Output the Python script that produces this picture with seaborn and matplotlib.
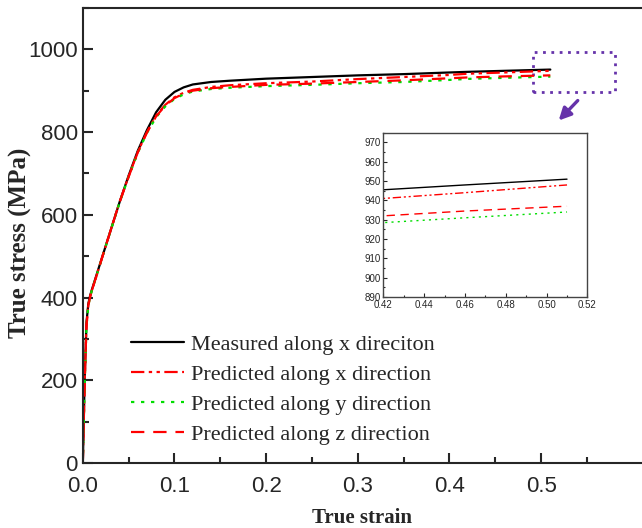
import numpy as np
import pandas as pd
import seaborn as sns
import matplotlib
matplotlib.use("Agg")
import matplotlib.pyplot as plt
from matplotlib.patches import Rectangle
from matplotlib.ticker import MultipleLocator, FixedLocator

# strain grid shared by all curves
strain = [0.0, 0.002, 0.004, 0.006, 0.008, 0.01, 0.015, 0.02, 0.03, 0.04, 0.05,
          0.06, 0.07, 0.08, 0.09, 0.10, 0.11, 0.12, 0.14, 0.16, 0.20, 0.25,
          0.30, 0.35, 0.40, 0.42, 0.46, 0.51]

measured_x = [0, 200, 340, 385, 405, 420, 455, 490, 560, 630, 695,
              755, 805, 848, 878, 897, 908, 915, 921, 924, 929, 933,
              937, 940, 944, 945.5, 948, 951]
pred_x = [0, 195, 335, 382, 403, 418, 453, 489, 560, 630, 693,
          752, 800, 840, 866, 884, 895, 902, 909, 913, 918, 922,
          928, 933, 938, 941, 944, 948]
pred_y = [0, 190, 330, 380, 402, 418, 453, 489, 559, 629, 692,
          750, 798, 836, 862, 880, 891, 898, 904, 907, 911, 914,
          918, 921, 926, 928.5, 931, 934]
pred_z = [0, 192, 332, 381, 402, 418, 453, 489, 560, 630, 692,
          751, 799, 838, 864, 882, 893, 900, 906, 909, 914, 917,
          921, 925, 930, 932, 934.5, 937]

labels = ["Measured along x direciton", "Predicted along x direction",
          "Predicted along y direction", "Predicted along z direction"]
colors = ["black", "#ff0000", "#00dd00", "#ff0000"]
dashes = [(None, None), (6, 2, 1.5, 2, 1.5, 2), (1.5, 3), (6, 4)]
series = [measured_x, pred_x, pred_y, pred_z]

x_ticks = [0.0, 0.1, 0.2, 0.3, 0.4, 0.5]

sns.set_style("ticks")
plt.rcParams['font.family'] = ['Liberation Sans', 'DejaVu Sans']

fig = plt.figure(figsize=(6.42, 5.28), dpi=100)
ax = fig.add_axes([0.129, 0.123, 0.871, 0.862])


def draw(a, lw):
    for vals, lab, c, d in zip(series, labels, colors, dashes):
        line = sns.lineplot(x=strain, y=vals, ax=a, color=c, lw=lw, label=lab)
        l = line.get_lines()[-1]
        if d[0] is not None:
            l.set_dashes(d)


draw(ax, 1.6)
ax.set_xlim(0, 0.61)
ax.set_ylim(0, 1100)
ax.xaxis.set_major_locator(FixedLocator(x_ticks))
ax.xaxis.set_minor_locator(FixedLocator([0.05, 0.15, 0.25, 0.35, 0.45, 0.55]))
ax.yaxis.set_major_locator(MultipleLocator(200))
ax.yaxis.set_minor_locator(MultipleLocator(100))
ax.tick_params(which="both", direction="in", top=False, right=False,
               labelsize=16, width=1.5)
ax.tick_params(which="major", length=7)
ax.tick_params(which="minor", length=4)
ax.tick_params(axis="x", which="major", pad=9)
ax.set_xticklabels([f"{v:.1f}" for v in x_ticks])
ax.spines["right"].set_visible(False)
for s in ["left", "bottom", "top"]:
    ax.spines[s].set_linewidth(1.5)
ax.set_xlabel("True strain", family="Liberation Serif", fontweight="bold",
              fontsize=15, labelpad=8)
ax.set_ylabel("True stress (MPa)", family="Liberation Serif", fontweight="bold",
              fontsize=18)
ax.yaxis.set_label_coords(-0.091, 0.484)

leg = ax.legend(loc="lower left", bbox_to_anchor=(0.05, -0.004), frameon=False,
                prop={"family": "Liberation Serif", "size": 16},
                handlelength=2.4, labelspacing=0.42, handletextpad=0.3)
for h in leg.get_lines():
    h.set_linewidth(1.6)

# zoom box and arrow
ax.add_patch(Rectangle((0.491, 896), 0.09, 97, fill=False, ls=(0, (1, 2)),
                       lw=2, ec="#6633aa"))
ax.annotate("", xy=(0.517, 823), xytext=(0.542, 881),
            arrowprops=dict(arrowstyle="-|>", color="#6633aa", lw=2.4,
                            mutation_scale=18))

# inset
ins = fig.add_axes([0.597, 0.4375, 0.318, 0.311])
draw(ins, 1.0)
ins.get_legend().remove()
ins.set_xlim(0.42, 0.52)
ins.set_ylim(890, 975)
ins.xaxis.set_major_locator(MultipleLocator(0.02))
ins.xaxis.set_minor_locator(MultipleLocator(0.01))
ins.yaxis.set_major_locator(MultipleLocator(10))
ins.yaxis.set_minor_locator(MultipleLocator(5))
ins.tick_params(which="both", direction="in", labelsize=7, width=0.8,
                top=False, right=False, pad=2)
ins.tick_params(which="major", length=3)
ins.tick_params(which="minor", length=1.5)
ins.set_xticklabels([f"{v:.2f}" for v in ins.get_xticks()])
ins.set_xlabel("")
ins.set_ylabel("")
for s in ins.spines.values():
    s.set_linewidth(1.0)
    s.set_color("#444444")

fig.savefig("out.png", dpi=100)
